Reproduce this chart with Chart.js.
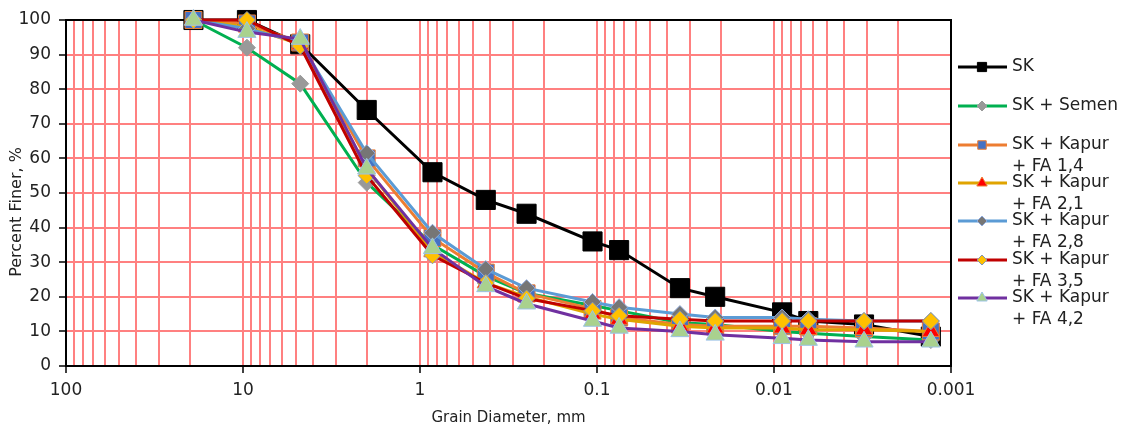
<!DOCTYPE html>
<html>
<head>
<meta charset="utf-8">
<script src="https://cdn.jsdelivr.net/npm/chart.js@4.4.0/dist/chart.umd.min.js"></script>
<style>
  html, body { margin: 0; padding: 0; background: #fff; }
  #wrap { width: 1127px; height: 433px; position: relative; }
</style>
</head>
<body>
<div id="wrap"><canvas id="grading-chart"></canvas></div>
<script>
// grain diameters (mm), sieve + hydrometer
const grainSize = [19.05, 9.5, 4.75, 2.0, 0.85, 0.425, 0.25, 0.106, 0.075, 0.034, 0.0215, 0.009, 0.0064, 0.0031, 0.0013];

// percent finer for each mix
const sk      = [100, 100, 93, 74, 56, 48, 44, 36, 33.5, 22.5, 20, 15.5, 13, 12, 8.5];
const skSemen = [100, 92, 81.6, 53, 35, 26, 21, 17.5, 16, 12.5, 12, 10, 9.5, 8.5, 7.5];
const fa14    = [100, 99, 93.5, 60, 37, 27, 21, 16.5, 14, 12, 11.5, 11.5, 11.5, 11, 10];
const fa21    = [100, 98, 93, 57, 33, 24, 20, 15, 13.5, 11.5, 11, 11, 10.5, 10.5, 10];
const fa28    = [100, 97.5, 93.5, 61.5, 38.5, 28, 22.5, 18.5, 17, 15, 14, 14, 13.5, 13, 13];
const fa35    = [100, 100, 92.5, 55, 32, 24, 19.5, 16, 14.5, 13.5, 13, 13, 13, 13, 13];
const fa42    = [100, 96.5, 94.5, 57, 34, 23, 18, 13, 11, 10, 9, 8, 7.5, 7, 7];

const seriesLabels = [
    ["SK"],
    ["SK + Semen"],
    ["SK + Kapur", "+ FA 1,4"],
    ["SK + Kapur", "+ FA 2,1"],
    ["SK + Kapur", "+ FA 2,8"],
    ["SK + Kapur", "+ FA 3,5"],
    ["SK + Kapur", "+ FA 4,2"],
];
const seriesValues = [sk, skSemen, fa14, fa21, fa28, fa35, fa42];

const xTickLabels = [100, 10, 1, 0.1, 0.01, 0.001];
const yTickLabels = [0, 10, 20, 30, 40, 50, 60, 70, 80, 90, 100];
const yTitle = "Percent Finer, %";

const seriesStyles = [
    { line: "#000000", fill: "#000000", edge: "#000000", shape: "rect", r: 13.5, lr: 6.5 },
    { line: "#00B050", fill: "#999999", edge: "#999999", shape: "rectRot", r: 8.5, lr: 5 },
    { line: "#ED7D31", fill: "#4472C4", edge: "#ED7D31", shape: "rect", r: 12, lr: 6 },
    { line: "#E0A400", fill: "#FF0000", edge: "#ED7D31", shape: "triangle", r: 10, lr: 6 },
    { line: "#5B9BD5", fill: "#767676", edge: "#8FAADC", shape: "rectRot", r: 8.5, lr: 5 },
    { line: "#C00000", fill: "#FFC000", edge: "#8497B0", shape: "rectRot", r: 8.5, lr: 5 },
    { line: "#7030A0", fill: "#A9D18E", edge: "#9DC3E6", shape: "triangle", r: 10.5, lr: 6 },
];

Chart.defaults.font.family = "'DejaVu Sans', sans-serif";
Chart.defaults.font.size = 17;
Chart.defaults.color = "#222222";

const gridRed = "#FF8080";

const datasets = seriesValues.map((vals, i) => {
    const st = seriesStyles[i];
    return {
        label: seriesLabels[i].join(" "),
        data: vals.map((v, j) => ({ x: grainSize[j], y: v })),
        borderColor: st.line,
        borderWidth: 3,
        backgroundColor: st.fill,
        pointBackgroundColor: st.fill,
        pointBorderColor: st.edge,
        pointBorderWidth: 1,
        pointStyle: st.shape,
        pointRadius: st.r,
        tension: 0,
        clip: false,
        order: seriesValues.length - i,
    };
});

// black box round the plot area, plus the y title placed like the original
const framePlugin = {
    id: "plotFrame",
    beforeDatasetsDraw(chart) {
        const { ctx, chartArea: a } = chart;
        ctx.save();
        ctx.strokeStyle = "#000";
        ctx.lineWidth = 2;
        ctx.strokeRect(a.left, a.top, a.right - a.left, a.bottom - a.top);
        ctx.translate(17, 212);
        ctx.rotate(-Math.PI / 2);
        ctx.font = "16px 'DejaVu Sans', sans-serif";
        ctx.fillStyle = "#222222";
        ctx.textAlign = "center";
        ctx.textBaseline = "middle";
        ctx.fillText(yTitle, 0, 0);
        ctx.restore();
    },
};

// legend on the right, with two-line labels
const legendPlugin = {
    id: "sideLegend",
    afterDraw(chart) {
        const ctx = chart.ctx;
        const rowY = [67, 106, 145, 183, 221, 260, 298];
        ctx.save();
        ctx.font = "17px 'DejaVu Sans', sans-serif";
        ctx.textBaseline = "middle";
        ctx.textAlign = "left";
        seriesLabels.forEach((lines, i) => {
            const st = seriesStyles[i];
            const y = rowY[i];
            ctx.strokeStyle = st.line;
            ctx.lineWidth = 3;
            ctx.beginPath();
            ctx.moveTo(958, y);
            ctx.lineTo(1007, y);
            ctx.stroke();
            ctx.fillStyle = st.fill;
            ctx.strokeStyle = st.edge;
            ctx.lineWidth = 1;
            Chart.helpers.drawPoint(ctx, { pointStyle: st.shape, radius: st.lr, rotation: 0, borderWidth: 1 }, 982, y);
            ctx.fillStyle = "#222222";
            lines.forEach((t, k) => ctx.fillText(t, 1012, y + k * 22));
        });
        ctx.restore();
    },
};

function buildLogTicks(scale) {
    const ticks = [];
    xTickLabels.forEach((d) => {
        if (d === 100) {
            ticks.push({ value: d, major: true });
            return;
        }
        for (let k = 1; k <= 9; k++) {
            ticks.push({ value: d * k, major: k === 1 });
        }
    });
    scale.ticks = ticks;
}

new Chart(document.getElementById("grading-chart"), {
    type: "line",
    data: { datasets },
    plugins: [framePlugin, legendPlugin],
    options: {
        responsive: true,
        maintainAspectRatio: false,
        animation: false,
        layout: { padding: { top: 20, right: 176, left: 0, bottom: 0 } },
        plugins: { legend: { display: false }, tooltip: { enabled: false } },
        scales: {
            x: {
                type: "logarithmic",
                reverse: true,
                min: 0.001,
                max: 100,
                afterBuildTicks: buildLogTicks,
                afterFit: (s) => { s.height = 67; },
                border: { color: "#000", width: 2 },
                grid: {
                    color: gridRed,
                    lineWidth: 2,
                    tickLength: 7,
                    tickWidth: 1.5,
                    tickColor: (c) => (c.tick && xTickLabels.includes(c.tick.value) ? "#000" : "rgba(0,0,0,0)"),
                },
                ticks: {
                    autoSkip: false,
                    maxRotation: 0,
                    padding: 7,
                    callback: (v) => (xTickLabels.includes(v) ? String(v) : ""),
                },
                title: { display: true, text: "Grain Diameter, mm", font: { size: 15 }, padding: { top: 2, bottom: 6 } },
            },
            y: {
                min: 0,
                max: 100,
                afterBuildTicks: (s) => { s.ticks = yTickLabels.map((v) => ({ value: v })); },
                afterFit: (s) => { s.width = 66; },
                border: { color: "#000", width: 2 },
                grid: { color: gridRed, lineWidth: 2, tickLength: 7, tickWidth: 1.5, tickColor: "#000" },
                ticks: { padding: 8 },
            },
        },
    },
});
</script>
</body>
</html>
